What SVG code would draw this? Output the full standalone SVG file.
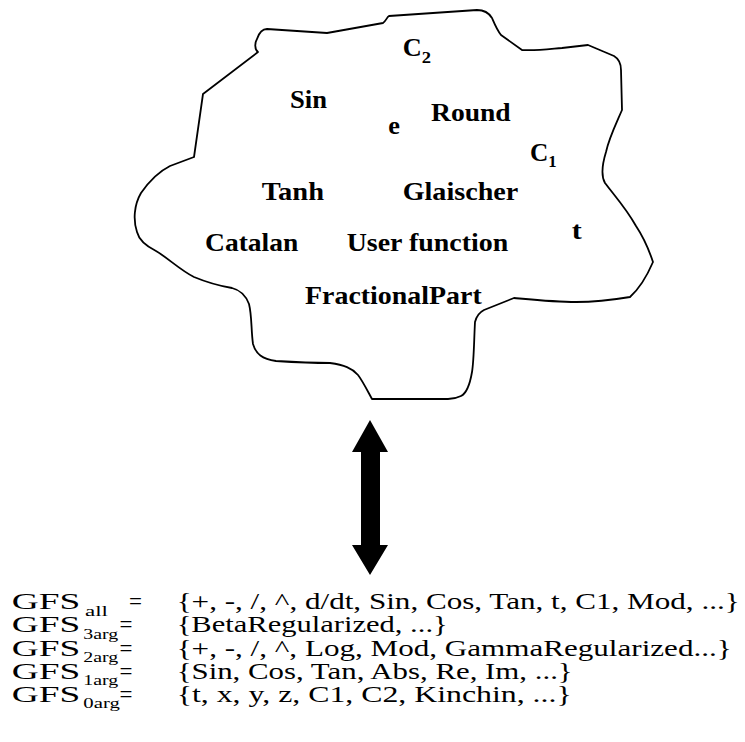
<svg xmlns="http://www.w3.org/2000/svg" width="745" height="742" viewBox="0 0 745 742">
  <style>
    .outline { fill: #fff; stroke: #000; stroke-width: 1.8; stroke-linejoin: round; }
    .lbl { font-family: "Liberation Serif", "Times New Roman", serif; font-weight: bold; font-size: 25px; fill: #000; }
    .lbl-sub { font-family: "Liberation Serif", "Times New Roman", serif; font-weight: bold; font-size: 16px; fill: #000; }
    .set { font-family: "Liberation Serif", "Times New Roman", serif; font-size: 23px; fill: #000; }
    .set-sub { font-family: "Liberation Serif", "Times New Roman", serif; font-size: 15px; fill: #000; }
    .arrow { fill: #000; stroke: none; }
  </style>

  <!-- Blob holding the function/terminal pool -->
  <g id="pool">
    <path class="outline" d="M258,52
      C254,49 255,42 257,39
      C259,33 262,29 267,29
      L327,33
      L383,23
      C386,21 387,17 389,16
      L477,10
      C483,10 489,13 492,18
      C495,25 497,30 501,35
      L522,50
      C535,51 550,49 562,48
      L588,45
      L614,56
      C619,59 621,63 621,70
      L622,110
      C616,124 609,138 606,152
      C602,165 601,176 605,183
      C614,195 626,208 636,226
      C644,238 649,250 653,262
      C647,276 640,288 630,297
      C612,300 596,302 576,302
      C556,302 536,300 514,298
      L484,310
      C478,313 476,318 475,322
      C474,340 474,360 472,372
      C470,384 467,393 461,396
      C457,398 452,399 448,399
      L372,399
      C366,388 362,380 358,375
      C352,368 344,365 330,363
      C310,363 292,362 276,361
      C262,359 256,354 253,344
      C251,330 252,316 249,304
      C246,296 240,290 232,288
      C220,286 206,282 194,277
      C180,270 168,258 156,251
      C146,246 139,240 137,232
      C133,220 134,205 141,193
      C150,180 160,171 170,166
      L194,157
      L203,94
      Z"/>
  </g>

  <g id="label-c2">
    <text class="lbl" x="402.7" y="56" textLength="19" lengthAdjust="spacingAndGlyphs">C</text>
    <text class="lbl-sub" x="421.7" y="62.5" textLength="9.3" lengthAdjust="spacingAndGlyphs">2</text>
  </g>
  <g id="label-sin"><text class="lbl" x="290" y="107.5" textLength="37" lengthAdjust="spacingAndGlyphs">Sin</text></g>
  <g id="label-e"><text class="lbl" x="388.3" y="133.5" textLength="11.7" lengthAdjust="spacingAndGlyphs">e</text></g>
  <g id="label-round"><text class="lbl" x="431" y="120.5" textLength="79.7" lengthAdjust="spacingAndGlyphs">Round</text></g>
  <g id="label-c1">
    <text class="lbl" x="530" y="160.5" textLength="18.3" lengthAdjust="spacingAndGlyphs">C</text>
    <text class="lbl-sub" x="548.3" y="166.5" textLength="8.4" lengthAdjust="spacingAndGlyphs">1</text>
  </g>
  <g id="label-tanh"><text class="lbl" x="261.7" y="200" textLength="62.3" lengthAdjust="spacingAndGlyphs">Tanh</text></g>
  <g id="label-glaischer"><text class="lbl" x="402.7" y="200" textLength="115.6" lengthAdjust="spacingAndGlyphs">Glaischer</text></g>
  <g id="label-catalan"><text class="lbl" x="205" y="250.5" textLength="93.3" lengthAdjust="spacingAndGlyphs">Catalan</text></g>
  <g id="label-user-function"><text class="lbl" x="346.7" y="250.5" textLength="161.6" lengthAdjust="spacingAndGlyphs">User function</text></g>
  <g id="label-t"><text class="lbl" x="571.7" y="239" textLength="10" lengthAdjust="spacingAndGlyphs">t</text></g>
  <g id="label-fractionalpart"><text class="lbl" x="305" y="304" textLength="176.7" lengthAdjust="spacingAndGlyphs">FractionalPart</text></g>

  <!-- Two-way arrow between the pool and the set definitions -->
  <g id="connectors">
    <polygon class="arrow" points="370,420 388,452 380,452 380,545 388,545 370,575 352,545 361,545 361,452 352,452"/>
  </g>

  <!-- Function set definitions -->
  <g id="set-all">
    <text class="set" x="11.7" y="609" textLength="68.5" lengthAdjust="spacingAndGlyphs">GFS</text>
    <text class="set-sub" x="85" y="616" textLength="23" lengthAdjust="spacingAndGlyphs">all</text>
    <text class="set" x="129" y="609">=</text>
    <text class="set" x="176.7" y="609" textLength="563" lengthAdjust="spacingAndGlyphs">{+, -, /, ^, d/dt, Sin, Cos, Tan, t, C1, Mod, ...}</text>
  </g>
  <g id="set-3arg">
    <text class="set" x="11.7" y="632.3" textLength="68.5" lengthAdjust="spacingAndGlyphs">GFS</text>
    <text class="set-sub" x="83.3" y="638.5" textLength="35" lengthAdjust="spacingAndGlyphs">3arg</text>
    <text class="set" x="119.5" y="632.3">=</text>
    <text class="set" x="176.7" y="632.3" textLength="271" lengthAdjust="spacingAndGlyphs">{BetaRegularized, ...}</text>
  </g>
  <g id="set-2arg">
    <text class="set" x="11.7" y="655.6" textLength="68.5" lengthAdjust="spacingAndGlyphs">GFS</text>
    <text class="set-sub" x="83.3" y="661.8" textLength="35" lengthAdjust="spacingAndGlyphs">2arg</text>
    <text class="set" x="119.5" y="655.6">=</text>
    <text class="set" x="176.7" y="655.6" textLength="555" lengthAdjust="spacingAndGlyphs">{+, -, /, ^, Log, Mod, GammaRegularized...}</text>
  </g>
  <g id="set-1arg">
    <text class="set" x="11.7" y="678.9" textLength="68.5" lengthAdjust="spacingAndGlyphs">GFS</text>
    <text class="set-sub" x="83.3" y="685.1" textLength="35" lengthAdjust="spacingAndGlyphs">1arg</text>
    <text class="set" x="119.5" y="678.9">=</text>
    <text class="set" x="176.7" y="678.9" textLength="396" lengthAdjust="spacingAndGlyphs">{Sin, Cos, Tan, Abs, Re, Im, ...}</text>
  </g>
  <g id="set-0arg">
    <text class="set" x="11.7" y="702.2" textLength="68.5" lengthAdjust="spacingAndGlyphs">GFS</text>
    <text class="set-sub" x="83.3" y="708.4" textLength="36.5" lengthAdjust="spacingAndGlyphs">0arg</text>
    <text class="set" x="119.5" y="702.2">=</text>
    <text class="set" x="176.7" y="702.2" textLength="395" lengthAdjust="spacingAndGlyphs">{t, x, y, z,  C1, C2, Kinchin, ...}</text>
  </g>
</svg>
